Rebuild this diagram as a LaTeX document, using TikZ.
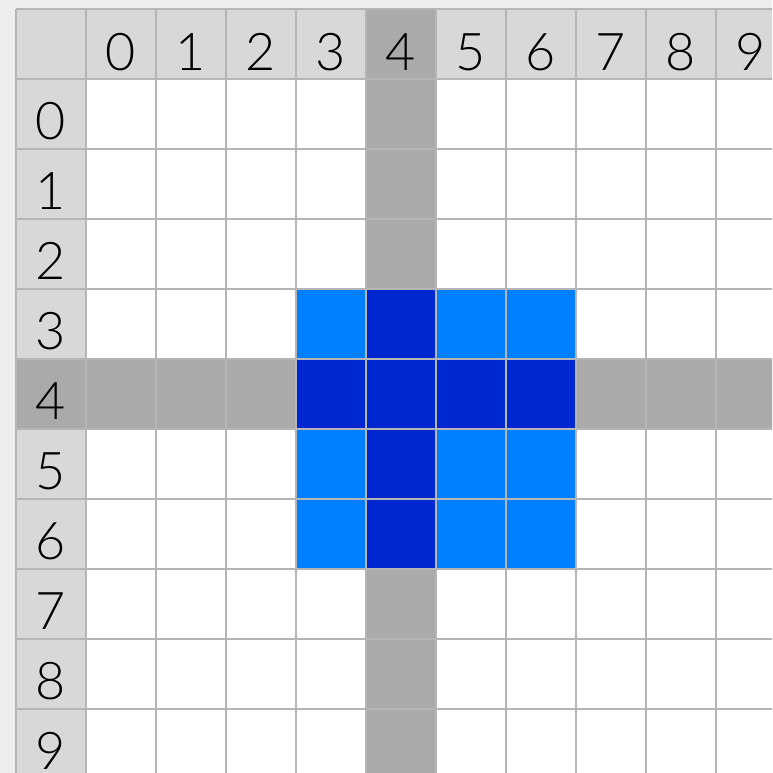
\documentclass[tikz,border=0pt]{standalone}
\usepackage{fontspec}
\setmainfont{Lato}[UprightFont=* Light]
\definecolor{bgcol}{HTML}{EEEEEE}
\definecolor{headcol}{HTML}{D8D8D8}
\definecolor{hilite}{HTML}{AAAAAA}
\definecolor{gridcol}{HTML}{B5B5B5}
\definecolor{lightblue}{HTML}{0080FF}
\definecolor{darkblue}{HTML}{0028D2}
\begin{document}
\begin{tikzpicture}[x=1pt,y=-1pt,
  gridline/.style={draw=gridcol,line width=2.2pt},
  lab/.style={anchor=base,inner sep=0pt,font=\fontsize{52}{58}\selectfont,text=black}]
\useasboundingbox (0,0) rectangle (772,773);
\fill[bgcol] (0,0) rectangle (772,773);
\clip (0,0) rectangle (772,773);
\begin{scope}[shift={(86,79)},x=70pt,y=-70pt]
  \fill[white] (0,0) rectangle (11,11);
  \fill[headcol] (-1,-1) rectangle (11,0);
  \fill[headcol] (-1,-1) rectangle (0,11);
  \fill[hilite] (4,-1) rectangle (5,11);
  \fill[hilite] (-1,4) rectangle (11,5);
  \fill[lightblue] (3,3) rectangle (7,7);
  \fill[darkblue] (4,3) rectangle (5,7);
  \fill[darkblue] (3,4) rectangle (7,5);
  \foreach \i in {-1,...,11} {
    \draw[gridline] (\i,-1) -- (\i,11);
    \draw[gridline] (-1,\i) -- (11,\i);
  }
  \foreach \i in {0,...,9} {
    \node[lab] (col\i) at (\i+0.5,-0.12) {\i};
    \node[lab] (row\i) at (-0.5,\i+0.86) {\i};
  }
\end{scope}
\end{tikzpicture}
\end{document}
